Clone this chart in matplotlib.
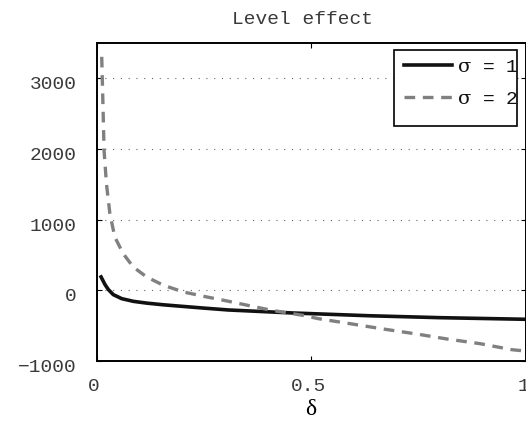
import matplotlib
matplotlib.use("Agg")
import matplotlib.pyplot as plt
import matplotlib.transforms as mtransforms
from matplotlib.patches import Rectangle

# values
delta_s1 = [0.0095, 0.0187, 0.0266, 0.038, 0.0577, 0.085, 0.116, 0.155,
            0.189, 0.25, 0.306, 0.454, 0.636, 0.8, 1.0]
level_s1 = [190, 81, 10, -61, -118, -156, -181, -205,
            -222, -252, -278, -320, -360, -387, -410]

delta_s2 = [0.011, 0.014, 0.0165, 0.022, 0.030, 0.0415, 0.061, 0.0845, 0.116,
            0.155, 0.202, 0.257, 0.296, 0.407, 0.48, 0.516, 0.590, 0.667,
            0.745, 0.815, 0.893, 0.967, 1.0]
level_s2 = [3305, 2600, 1980, 1510, 1086, 755, 520, 330, 188,
            71, -24, -95, -142, -283, -354, -401, -472, -547,
            -618, -688, -755, -840, -860]

x_ticks = [0, 0.5, 1]
x_tick_labels = ["0", "0.5", "1"]
y_ticks = [-1000, 0, 1000, 2000, 3000]
labels = [r"$\sigma$ = 1", r"$\sigma$ = 2"]

mono = ["Liberation Mono", "DejaVu Sans Mono"]
plt.rcParams["mathtext.fontset"] = "custom"
plt.rcParams["mathtext.rm"] = "DejaVu Serif"
plt.rcParams["mathtext.it"] = "DejaVu Serif"

fig = plt.figure(figsize=(5.26, 4.23), dpi=100)
ax = fig.add_axes([0.1844, 0.1466, 0.8156, 0.7517])

ax.plot(delta_s1, level_s1, color="#111111", lw=2.6, label=labels[0])
ax.plot(delta_s2, level_s2, color="#808080", lw=2.4, ls=(0, (3.2, 2.3)),
        label=labels[1])

ax.set_xlim(0, 1)
ax.set_ylim(-1000, 3500)
ax.set_xticks(x_ticks)
ax.set_xticklabels(x_tick_labels, family=mono, fontsize=14, color="#3a3a3a")
ax.set_yticks(y_ticks)
ax.set_yticklabels([str(v).replace("-", "\u2212") for v in y_ticks],
                   family=mono, fontsize=14, color="#3a3a3a")
ax.tick_params(direction="in", length=3.5, width=0.8, top=True, right=True)
ax.tick_params(axis="y", pad=14.5)
ax.tick_params(axis="x", pad=12)

# nudge tick labels the way the reference sits them
dy = mtransforms.ScaledTranslation(0, -0.045, fig.dpi_scale_trans)
for t in ax.get_yticklabels():
    t.set_transform(t.get_transform() + dy)
dx = mtransforms.ScaledTranslation(-0.03, 0, fig.dpi_scale_trans)
for t in ax.get_xticklabels():
    t.set_transform(t.get_transform() + dx)

ax.yaxis.grid(True, ls=(0, (1, 6)), color="#666666", lw=0.8)
for sp in ax.spines.values():
    sp.set_linewidth(1.4)
    sp.set_color("black")

fig.text(0.575, 0.943, "Level effect", family=mono, fontsize=14,
         color="#3a3a3a", ha="center", va="baseline")
ax.set_xlabel("\u03b4", family=["Liberation Serif", "DejaVu Serif"],
              fontsize=17)
ax.xaxis.set_label_coords(0.499, -0.154)
ax.xaxis.label.set_va("center")

# legend box drawn by hand so the text can run up to its edge
box = Rectangle((0.693, 0.739), 0.286, 0.239, transform=ax.transAxes,
                facecolor="white", edgecolor="black", lw=1.2, zorder=4.5)
ax.add_patch(box)
leg = ax.legend(loc="upper left", bbox_to_anchor=(0.716, 0.952),
                prop={"family": mono, "size": 14}, frameon=False,
                handlelength=2.45, labelspacing=0.72, borderpad=0.0,
                handletextpad=0.28, borderaxespad=0.0)
leg.set_zorder(5)
for t in leg.get_texts():
    t.set_color("#111111")

fig.savefig("out.png", dpi=100)
